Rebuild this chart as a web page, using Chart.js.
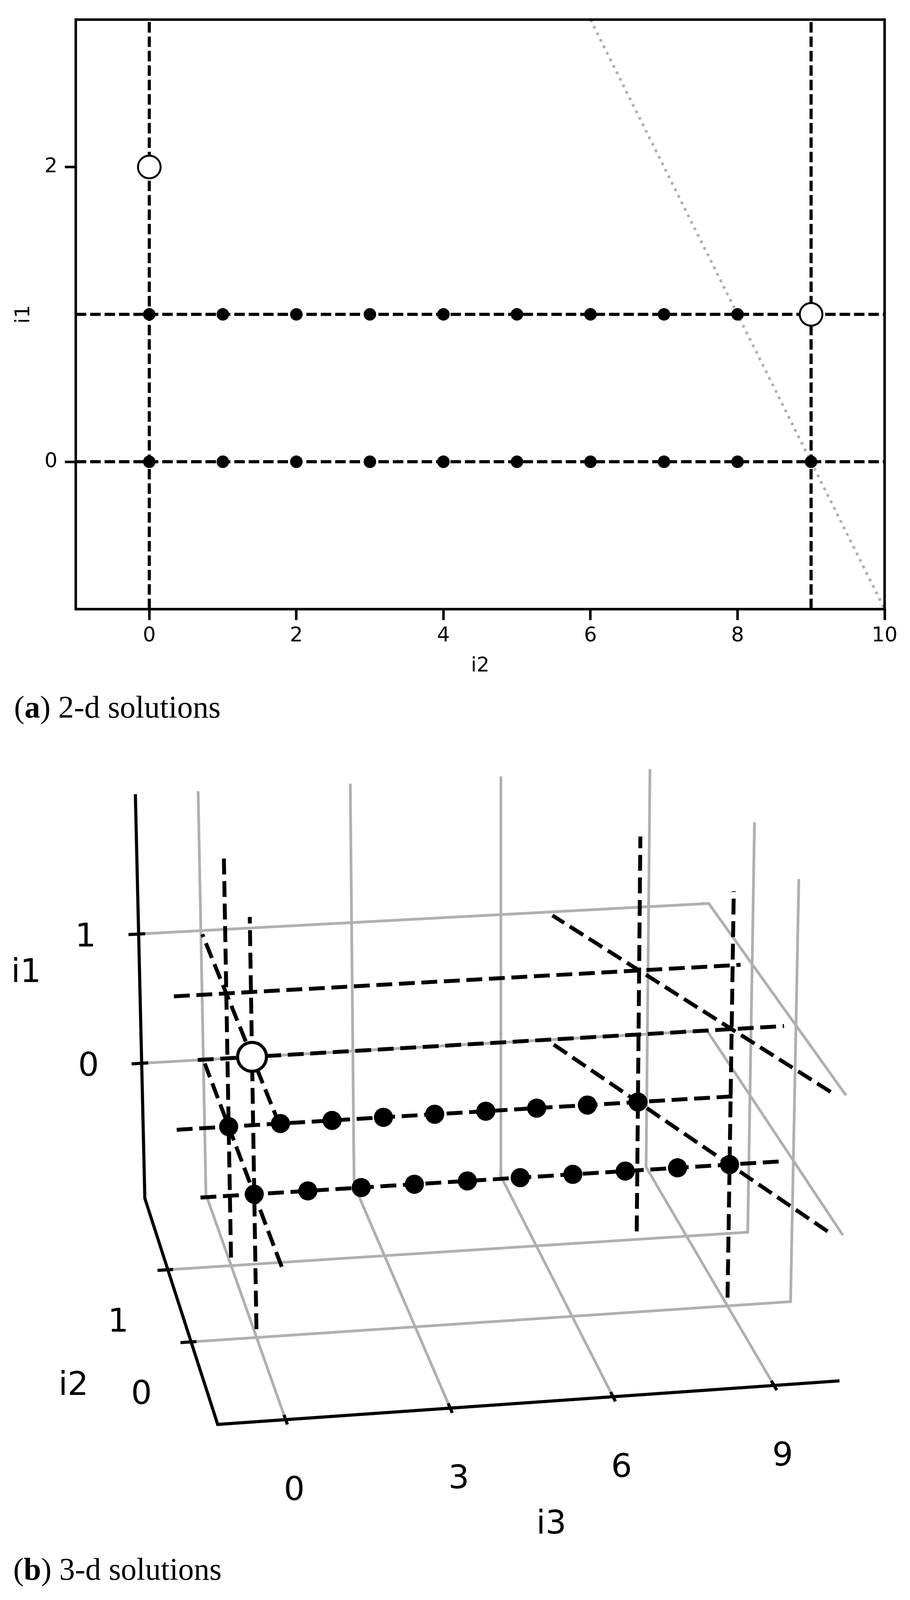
<!DOCTYPE html>
<html>
<head>
<meta charset="utf-8">
<script src="https://cdn.jsdelivr.net/npm/chart.js@4"></script>
<style>
    html, body { margin: 0; background: #fff; width: 2330px; overflow: hidden; }
    canvas { position: absolute; left: 0; }
    .caption { position: absolute; font: 80px/80px "Liberation Serif", serif; color: #000; white-space: nowrap; }
</style>
</head>
<body>
<canvas id="chartA"></canvas>
<canvas id="chartB"></canvas>
<div class="caption" id="captionA" style="left:36px">(<b>a</b>) 2-d solutions</div>
<div class="caption" id="captionB" style="left:34px">(<b>b</b>) 3-d solutions</div>

<script>
// ---- 2-d panel ----
const i2Ticks = [0, 2, 4, 6, 8, 10];
const i1Ticks = [0, 2];
const vLines2d = [0, 9];          // i2 values
const hLines2d = [0, 1];          // i1 values
const dotsRow0 = [0, 1, 2, 3, 4, 5, 6, 7, 8, 9];   // i2 where i1 = 0
const dotsRow1 = [0, 1, 2, 3, 4, 5, 6, 7, 8];      // i2 where i1 = 1
const open2dI2 = [0, 9];
const open2dI1 = [2, 1];
const constraintI2 = [6, 10];     // grey i1 + i2 = 9
const constraintI1 = [3, -1];

// ---- 3-d panel ----
const i3Ticks = [0, 3, 6, 9];
const i2Ticks3d = [0, 1];
const i1Ticks3d = [0, 1];
const i3Dots0 = [0, 1, 2, 3, 4, 5, 6, 7, 8, 9];    // i2 = 0, i1 = 0
const i3Dots1 = [0, 1, 2, 3, 4, 5, 6, 7, 8];       // i2 = 1, i1 = 0
const openPoint3d = [0, 0, 1];                     // i3, i2, i1
const verticals3d = [[0, 0], [0, 1], [8, 1], [9, 0]];   // i3, i2
const rows3d = [[1, 0], [0, 0], [1, 1], [0, 1]];        // i2, i1
const depthI1 = [0, 1];                            // i3 = 0, along i2
const diagonalI1 = [0, 1];                         // i3 + i2 = 9

// axis limits of the 3-d box
const i3Lim = [-1.229, 10.229];
const boxLim = [-1.0625, 2.0625];

// camera, fitted against the lattice points in the picture
const camera = [
    [138.5719, -44.6632, -11.5382, 651.0055],
    [-3.1545, -71.5645, -382.7565, 3111.0739],
    [0.0017904, 0.035611, -0.0090445, 1],
];

const project = (i3, i2, i1) => {
    const w = camera[2][0] * i3 + camera[2][1] * i2 + camera[2][2] * i1 + camera[2][3];
    return {
        x: (camera[0][0] * i3 + camera[0][1] * i2 + camera[0][2] * i1 + camera[0][3]) / w,
        y: (camera[1][0] * i3 + camera[1][1] * i2 + camera[1][2] * i1 + camera[1][3]) / w,
    };
};

// The browser window can be shorter than the 4168px design height, squeeze y to keep it all on the page
const DESIGN_H = 4168;
const yk = Math.min(1, window.innerHeight / DESIGN_H);

const canvasA = document.getElementById('chartA');
const canvasB = document.getElementById('chartB');
canvasA.width = 2330;
canvasA.height = Math.round(1900 * yk);
canvasA.style.top = '0px';
canvasB.width = 2330;
canvasB.height = Math.round((DESIGN_H - 1900) * yk);
canvasB.style.top = canvasA.height + 'px';
document.getElementById('captionA').style.top = (1801 * yk) + 'px';
document.getElementById('captionB').style.top = (4047 * yk) + 'px';
document.body.style.height = Math.round(DESIGN_H * yk) + 'px';

const FONT = '"DejaVu Sans", sans-serif';
const GREY = '#b0b0b0';

const lineSet = (data, color, width, dash) => ({
    type: 'scatter',
    data,
    showLine: true,
    borderColor: color,
    borderWidth: width,
    borderDash: dash || [],
    borderCapStyle: 'butt',
    borderJoinStyle: 'miter',
    pointRadius: 0,
    pointHoverRadius: 0,
    tension: 0,
    clip: false,
});

const dotSet = (data, radius, fill, stroke) => ({
    type: 'scatter',
    data,
    showLine: false,
    pointRadius: radius,
    pointHoverRadius: radius,
    pointBackgroundColor: fill,
    pointBorderColor: '#000',
    pointBorderWidth: stroke,
    clip: false,
});

// ---- 2-d chart ----
const DASH2D = [26.9, 10];

const frame = {
    id: 'frame',
    afterDraw(chart) {
        const { ctx, chartArea: a } = chart;
        ctx.save();
        ctx.strokeStyle = '#000';
        ctx.lineWidth = 6.5;
        ctx.strokeRect(a.left, a.top, a.right - a.left, a.bottom - a.top);
        ctx.restore();
    },
};

const datasetsA = [
    lineSet(constraintI2.map((v, i) => ({ x: v, y: constraintI1[i] })), GREY, 7, [7, 11.6]),
    ...vLines2d.map(v => lineSet([{ x: v, y: -1 }, { x: v, y: 3 }], '#000', 8, DASH2D)),
    ...hLines2d.map(v => lineSet([{ x: -1, y: v }, { x: 10, y: v }], '#000', 8, DASH2D)),
    dotSet(dotsRow0.map(v => ({ x: v, y: 0 })), 16, '#000', 0),
    dotSet(dotsRow1.map(v => ({ x: v, y: 1 })), 16, '#000', 0),
    dotSet(open2dI2.map((v, i) => ({ x: v, y: open2dI1[i] })), 29, '#fff', 5),
];

new Chart(canvasA, {
    data: { datasets: datasetsA.reverse() },
    plugins: [frame],
    options: {
        responsive: false,
        animation: false,
        devicePixelRatio: 1,
        events: [],
        layout: { autoPadding: false, padding: { top: 43 * yk, right: 65, left: 0, bottom: 0 } },
        plugins: { legend: { display: false }, tooltip: { enabled: false } },
        scales: {
            x: {
                type: 'linear', min: -1, max: 10,
                afterBuildTicks: s => { s.ticks = i2Ticks.map(value => ({ value })); },
                afterFit: s => { s.height = 313 * yk; },
                ticks: { color: '#000', font: { family: FONT, size: 52 }, padding: 10, maxRotation: 0, autoSkip: false },
                grid: { drawOnChartArea: false, tickLength: 28, tickWidth: 6.5, tickColor: '#000' },
                border: { display: false },
                title: { display: true, text: 'i2', color: '#000', font: { family: FONT, size: 52 }, padding: { top: 0, bottom: 133 * yk } },
            },
            y: {
                type: 'linear', min: -1, max: 3,
                afterBuildTicks: s => { s.ticks = i1Ticks.map(value => ({ value })); },
                afterFit: s => { s.width = 194; },
                ticks: { color: '#000', font: { family: FONT, size: 52 }, padding: 19, autoSkip: false },
                grid: { drawOnChartArea: false, tickLength: 28, tickWidth: 6.5, tickColor: '#000' },
                border: { display: false },
                title: { display: true, text: 'i1', color: '#000', font: { family: FONT, size: 52 }, padding: { top: 30, bottom: 0 } },
            },
        },
    },
});

// ---- 3-d chart ----
const [i3Min, i3Max] = i3Lim;
const [boxMin, boxMax] = boxLim;
const DASH3D = [40.7, 17];
const poly = pts => pts.map(p => project(p[0], p[1], p[2]));

const gridSets = [
    ...i1Ticks3d.map(v => poly([[i3Min, boxMax, v], [i3Max, boxMax, v], [i3Max, boxMin, v]])),
    ...i2Ticks3d.map(v => poly([[i3Min, v, boxMin], [i3Max, v, boxMin], [i3Max, v, boxMax]])),
    ...i3Ticks.map(v => poly([[v, boxMin, boxMin], [v, boxMax, boxMin], [v, boxMax, boxMax]])),
].map(d => lineSet(d, GREY, 7));

const axisSets = [
    poly([[i3Min, boxMax, boxMax], [i3Min, boxMax, boxMin], [i3Min, boxMin, boxMin], [i3Max, boxMin, boxMin]]),
    ...i1Ticks3d.map(v => poly([[i3Min - 0.2, boxMax, v], [i3Min + 0.13, boxMax, v]])),
    ...i2Ticks3d.map(v => poly([[i3Min - 0.2, v, boxMin], [i3Min + 0.1, v, boxMin]])),
    ...i3Ticks.map(v => poly([[v, boxMin - 0.06, boxMin], [v, boxMin + 0.06, boxMin]])),
].map(d => lineSet(d, '#000', 8));

const dashedSets = [
    ...verticals3d.map(([i3, i2]) => poly([[i3, i2, -1], [i3, i2, 2]])),
    ...rows3d.map(([i2, i1]) => poly([[-1, i2, i1], [10, i2, i1]])),
    ...depthI1.map(i1 => poly([[0, -1, i1], [0, 2, i1]])),
    ...diagonalI1.map(i1 => poly([[10, -1, i1], [7, 2, i1]])),
].map(d => lineSet(d, '#000', 10, DASH3D));

const dotSets = [
    dotSet(i3Dots0.map(v => project(v, 0, 0)), 24.5, '#000', 0),
    dotSet(i3Dots1.map(v => project(v, 1, 0)), 24.5, '#000', 0),
    dotSet([project(...openPoint3d)], 37, '#fff', 8),
];

// tick labels and axis titles follow the projected axis, shifted by a pixel offset
const labels3d = {
    id: 'labels3d',
    afterDraw(chart) {
        const { ctx, scales: { x, y } } = chart;
        const put = (text, p, dx, dy) => ctx.fillText(text, x.getPixelForValue(p.x) + dx, y.getPixelForValue(p.y) + dy * yk);
        ctx.save();
        ctx.font = '84px ' + FONT;
        ctx.fillStyle = '#000';
        ctx.textAlign = 'center';
        ctx.textBaseline = 'middle';
        i1Ticks3d.forEach(v => put(String(v), project(i3Min, boxMax, v), -136, 10));
        i2Ticks3d.forEach(v => put(String(v), project(i3Min, v, boxMin), -127, 139));
        i3Ticks.forEach(v => put(String(v), project(v, boxMin, boxMin), 22, 187));
        put('i1', project(i3Min, boxMax, 0.5), -292, -66);
        put('i2', project(i3Min, 0.5, boxMin), -271, 212);
        put('i3', project(4.5, boxMin, boxMin), 50, 320);
        ctx.restore();
    },
};

new Chart(canvasB, {
    data: { datasets: [...gridSets, ...axisSets, ...dashedSets, ...dotSets].reverse() },
    plugins: [labels3d],
    options: {
        responsive: false,
        animation: false,
        devicePixelRatio: 1,
        events: [],
        layout: { autoPadding: false, padding: 0 },
        plugins: { legend: { display: false }, tooltip: { enabled: false } },
        scales: {
            x: { type: 'linear', min: 0, max: 2330, display: false },
            y: { type: 'linear', min: 1900, max: 4168, reverse: true, display: false },
        },
    },
});
</script>
</body>
</html>
